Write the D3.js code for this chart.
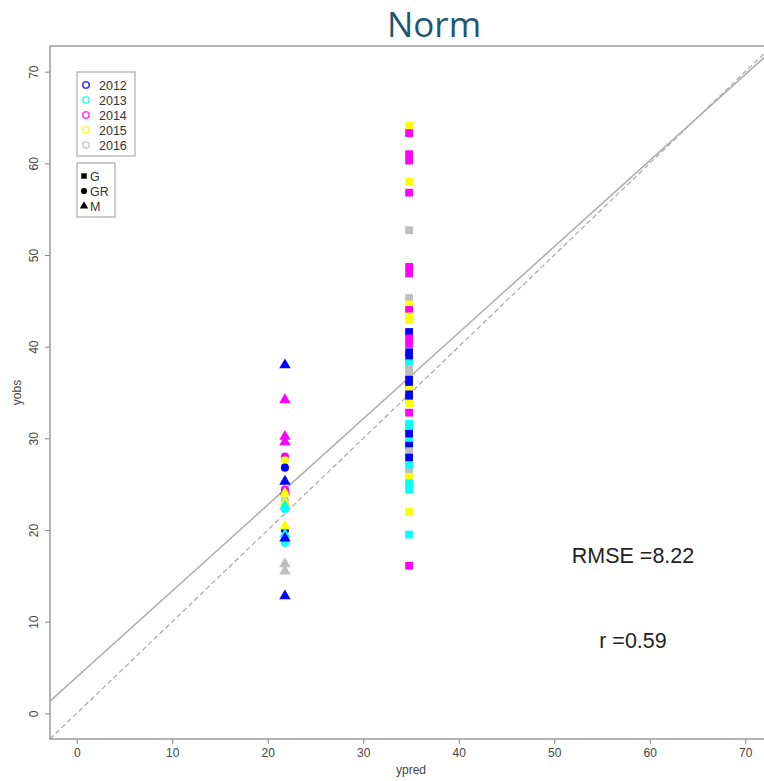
<!DOCTYPE html>
<html>
<head>
<meta charset="utf-8">
<script src="https://cdn.jsdelivr.net/npm/d3@7"></script>
<style>
	body { margin: 0; background: #fff; }
	svg { display: block; }
</style>
</head>
<body>
<svg id="chart" width="764" height="781"></svg>
<script>
const years = [2012, 2013, 2014, 2015, 2016]
const yearColors = ["#0000ff", "#00ffff", "#ff00ff", "#ffff00", "#bebebe"]
const groups = ["G", "GR", "M"]
const ticks = [0, 10, 20, 30, 40, 50, 60, 70]

// predicted value of each group (one value per group in the Norm model)
const predG = 34.8
const predGR = 21.8
const predM = 21.8

// observed values and years, group G (squares)
const obsG = [64.1, 63.3, 61.0, 60.3, 58.0, 56.8, 52.7, 48.7, 48.0, 45.3, 44.6, 44.0, 43.3, 42.9, 41.6, 40.9, 40.3, 39.4, 38.8, 38.2, 37.6, 37.0, 36.4, 35.9, 35.3, 34.8, 34.4, 33.8, 32.8, 31.6, 31.2, 30.5, 29.6, 29.2, 28.6, 27.9, 27.0, 26.3, 25.8, 25.1, 24.4, 22.0, 19.5, 16.1]
const yearG = [2015, 2014, 2014, 2014, 2015, 2014, 2016, 2014, 2014, 2016, 2015, 2014, 2015, 2015, 2012, 2014, 2014, 2012, 2012, 2013, 2016, 2016, 2012, 2012, 2015, 2012, 2012, 2015, 2014, 2013, 2013, 2012, 2013, 2012, 2016, 2012, 2013, 2016, 2015, 2013, 2013, 2015, 2013, 2014]

// group GR (circles)
const obsGR = [28.0, 27.6, 26.8, 24.4, 23.2, 22.3, 20.0, 18.6]
const yearGR = [2014, 2015, 2012, 2014, 2016, 2013, 2012, 2013]

// group M (triangles)
const obsM = [38.0, 34.2, 30.2, 29.6, 25.3, 24.2, 24.0, 23.0, 22.6, 20.4, 19.5, 19.1, 16.3, 15.5, 12.8]
const yearM = [2012, 2014, 2014, 2014, 2012, 2014, 2015, 2015, 2013, 2015, 2013, 2012, 2016, 2016, 2012]

// fitted line (intercept, slope) and stats
const fit = [3.96, 0.939]
const rmse = 8.22
const r = 0.59

const svg = d3.select("#chart")
const font = "'Liberation Sans', Arial, sans-serif"

const x = d3.scaleLinear().domain([-2.8, 72.8]).range([50, 772])
const y = d3.scaleLinear().domain([-2.8, 72.8]).range([739, 46])
const color = d3.scaleOrdinal().domain(years).range(yearColors)

svg.append("text")
	.attr("x", 434)
	.attr("y", 37)
	.attr("text-anchor", "middle")
	.attr("style", "font-family:'Open Sans',sans-serif;font-size:35px;fill:#1c5872;")
	.text("Norm")

// 1:1 and fit lines
const lines = svg.append("g")
lines.append("line")
	.attr("x1", x(-2.8)).attr("y1", y(-2.8))
	.attr("x2", x(72.8)).attr("y2", y(72.8))
	.attr("style", "stroke:#a8a8a8;stroke-width:1.2;stroke-dasharray:5,3;")
lines.append("line")
	.attr("x1", x(-2.8)).attr("y1", y(fit[0] + fit[1] * -2.8))
	.attr("x2", x(72.8)).attr("y2", y(fit[0] + fit[1] * 72.8))
	.attr("style", "stroke:#b0b0b0;stroke-width:1.6;")

const pts = svg.append("g")
const sym = {
	G: d3.symbol().type(d3.symbolSquare).size(60),
	GR: d3.symbol().type(d3.symbolCircle).size(52),
	M: d3.symbol().type(d3.symbolTriangle).size(56)
}
const series = [
	{ group: "G", pred: predG, obs: obsG, year: yearG },
	{ group: "GR", pred: predGR, obs: obsGR, year: yearGR },
	{ group: "M", pred: predM, obs: obsM, year: yearM }
]
series.forEach(s => {
	pts.selectAll(null)
		.data(s.obs.map((v, i) => ({ v, yr: s.year[i] })))
		.join("path")
		.attr("d", sym[s.group])
		.attr("transform", d => `translate(${x(s.pred)},${y(d.v)})`)
		.attr("fill", d => color(d.yr))
})

// box
svg.append("rect")
	.attr("x", x(-2.8)).attr("y", y(72.8))
	.attr("width", x(72.8) - x(-2.8)).attr("height", y(-2.8) - y(72.8))
	.attr("style", "fill:none;stroke:#9a9a9a;stroke-width:1.5;")

const xAxis = svg.append("g")
	.attr("transform", `translate(0,${y(-2.8)})`)
	.call(d3.axisBottom(x).tickValues(ticks).tickSize(5).tickPadding(4))
xAxis.select(".domain").remove()
xAxis.selectAll("line").attr("stroke", "#888")
xAxis.selectAll("text").attr("style", `font-family:${font};font-size:12px;fill:#444;`)

const yAxis = svg.append("g")
	.attr("transform", `translate(${x(-2.8)},0)`)
	.call(d3.axisLeft(y).tickValues(ticks).tickSize(5))
yAxis.select(".domain").remove()
yAxis.selectAll("line").attr("stroke", "#888")
yAxis.selectAll("text")
	.attr("x", null).attr("dy", null)
	.attr("text-anchor", "middle")
	.attr("transform", "translate(-12,0) rotate(-90)")
	.attr("style", `font-family:${font};font-size:12px;fill:#444;`)

svg.append("text")
	.attr("x", x(35)).attr("y", 774)
	.attr("text-anchor", "middle")
	.attr("style", `font-family:${font};font-size:12px;fill:#444;`)
	.text("ypred")
svg.append("text")
	.attr("transform", `translate(21,${y(35)}) rotate(-90)`)
	.attr("text-anchor", "middle")
	.attr("style", `font-family:${font};font-size:12px;fill:#444;`)
	.text("yobs")

// stats
svg.append("text")
	.attr("x", 633).attr("y", 563)
	.attr("text-anchor", "middle")
	.attr("style", `font-family:${font};font-size:21.5px;fill:#222;`)
	.text("RMSE =" + rmse)
svg.append("text")
	.attr("x", 633).attr("y", 648)
	.attr("text-anchor", "middle")
	.attr("style", `font-family:${font};font-size:21.5px;fill:#222;`)
	.text("r =" + r)

// year legend
const leg1 = svg.append("g")
leg1.append("rect")
	.attr("x", 77).attr("y", 72).attr("width", 58).attr("height", 84)
	.attr("style", "fill:#fff;stroke:#999;stroke-width:1;")
years.forEach((yr, i) => {
	leg1.append("circle")
		.attr("cx", 86).attr("cy", 85 + i * 15).attr("r", 3.2)
		.attr("style", `fill:none;stroke:${color(yr)};stroke-width:1.6;opacity:0.75;`)
	leg1.append("text")
		.attr("x", 99).attr("y", 89.5 + i * 15)
		.attr("style", `font-family:${font};font-size:12.5px;fill:#333;`)
		.text(yr)
})

// group legend
const leg2 = svg.append("g")
leg2.append("rect")
	.attr("x", 77).attr("y", 163).attr("width", 38).attr("height", 54)
	.attr("style", "fill:#fff;stroke:#999;stroke-width:1;")
groups.forEach((g, i) => {
	leg2.append("path")
		.attr("d", d3.symbol().type([d3.symbolSquare, d3.symbolCircle, d3.symbolTriangle][i]).size(30))
		.attr("transform", `translate(84,${176 + i * 15})`)
		.attr("fill", "#000")
	leg2.append("text")
		.attr("x", 90).attr("y", 180.5 + i * 15)
		.attr("style", `font-family:${font};font-size:12.5px;fill:#333;`)
		.text(g)
})
</script>
</body>
</html>
